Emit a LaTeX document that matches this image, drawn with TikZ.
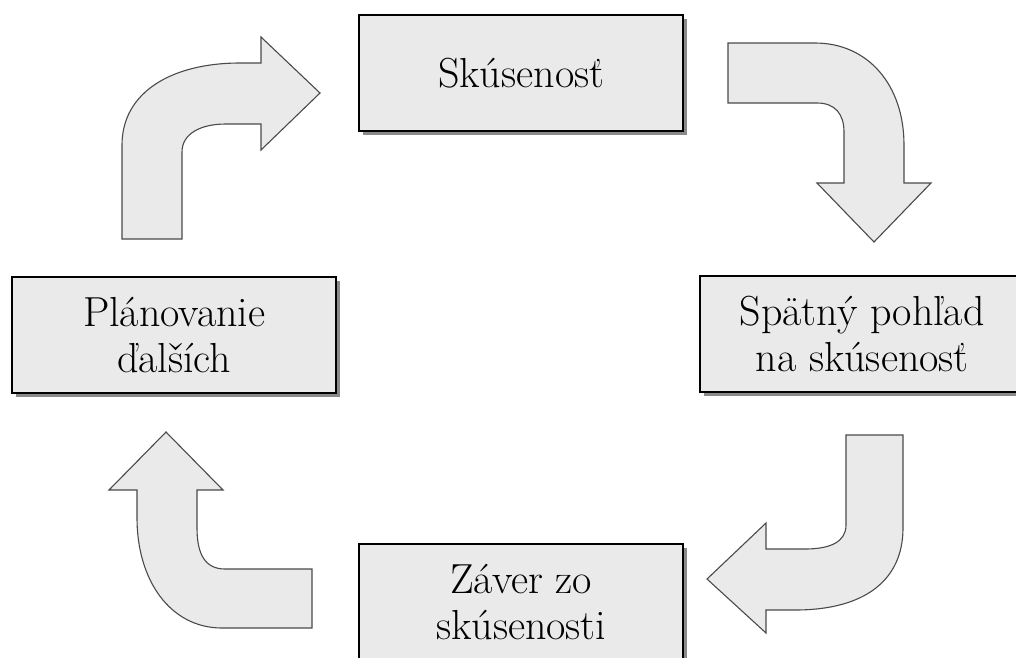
\documentclass[tikz,border=0pt]{standalone}
\usepackage{fontspec}
\definecolor{boxfill}{HTML}{EAEAEA}
\definecolor{arrline}{HTML}{4A4A4A}
\definecolor{shadowc}{HTML}{8A8A8A}
\tikzset{
  cbox/.style={draw=black, line width=2.4pt, fill=boxfill,
    minimum width=324pt, minimum height=116pt, inner sep=0pt, align=center,
    anchor=north west, font=\fontsize{42}{46}\selectfont,
    preaction={fill=shadowc, transform canvas={xshift=4pt,yshift=-4pt}}},
  barrow/.style={draw=arrline, line width=1.1pt, fill=boxfill, line join=miter},
}
\begin{document}
\begin{tikzpicture}[x=1pt,y=-1pt]
\useasboundingbox (0,0) rectangle (1016,657);
\clip (0,0) rectangle (1016,657);
% boxes
\node[cbox] (exp) at (358,14) {Skúsenosť};
\node[cbox] (rev) at (699,275) {Spätný pohľad\\na skúsenosť};
\node[cbox] (plan) at (11,276) {Plánovanie\\ďalších};
\node[cbox] (concl) at (358,543) {Záver zo\\skúsenosti};
% arrow: plan -> exp
\draw[barrow] (122,239) -- (122,145) .. controls (122,92) and (172,63) .. (240,63)
  -- (261,63) -- (261,37) -- (320,93) -- (261,150) -- (261,124) -- (226,124)
  .. controls (200,124) and (182,134) .. (182,152) -- (182,239) -- cycle;
% arrow: exp -> rev
\draw[barrow] (728,43) -- (815,43) .. controls (868,43) and (904,85) .. (904,145)
  -- (904,183) -- (931,183) -- (874,242) -- (817,183) -- (844,183) -- (844,132)
  .. controls (844,114) and (835,103) .. (817,103) -- (728,103) -- cycle;
% arrow: rev -> concl
\draw[barrow] (846,435) -- (903,435) -- (903,528) .. controls (903,580) and (865,610) .. (795,610)
  -- (766,610) -- (766,633) -- (707,579) -- (766,523) -- (766,549) -- (805,549)
  .. controls (830,549) and (846,542) .. (846,525) -- cycle;
% arrow: concl -> plan
\draw[barrow] (312,569) -- (312,628) -- (222,628) .. controls (170,628) and (137,580) .. (137,518)
  -- (137,490) -- (109,490) -- (166,432) -- (223,490) -- (197,490) -- (197,528)
  .. controls (197,554) and (205,569) .. (225,569) -- cycle;
\end{tikzpicture}
\end{document}
